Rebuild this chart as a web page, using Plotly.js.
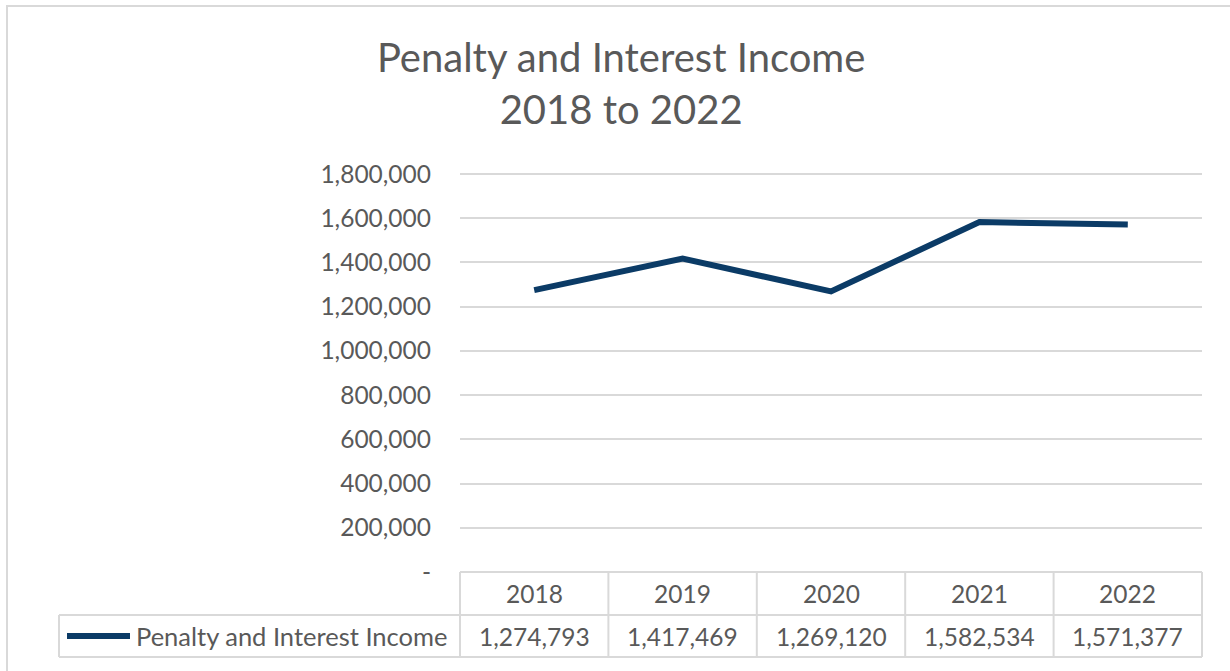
<!DOCTYPE html>
<html>
<head>
<meta charset="utf-8">
<script src="https://cdn.plot.ly/plotly-3.0.1.min.js"></script>
<style>
  html, body { margin: 0; padding: 0; background: #ffffff; }
  #wrap { position: relative; width: 1230px; height: 671px; overflow: hidden; }
  #frame { position: absolute; left: 6px; top: 5px; width: 1240px; height: 700px; border-left: 2.5px solid #d9d9d9; border-top: 2.5px solid #d9d9d9; pointer-events: none; z-index: 5; }
  #chart { position: absolute; left: 0; top: 0; width: 1230px; height: 671px; }
</style>
</head>
<body>
<div id="wrap">
  <div id="chart"></div>
  <div id="frame"></div>
</div>
<script>
const years = ['2018', '2019', '2020', '2021', '2022'];
const income = [1274793, 1417469, 1269120, 1582534, 1571377];
const seriesName = 'Penalty and Interest Income';
const yTickValues = [0, 200000, 400000, 600000, 800000, 1000000, 1200000, 1400000, 1600000, 1800000];
const yTickLabels = ['-', '200,000', '400,000', '600,000', '800,000', '1,000,000', '1,200,000', '1,400,000', '1,600,000', '1,800,000'];

const W = 1230, H = 671;
const L = 460, R = 1202, T = 166, B = 572;
const topGridPix = 174;
const plotW = R - L, plotH = B - T;
const yMax = 1800000 * (B - T) / (B - topGridPix);
const px = p => (p - L) / plotW;   // pixel x -> paper x
const py = p => (B - p) / plotH;   // pixel y -> paper y

const navy = '#0b3b66';
const grey = '#595959';
const border = '#d9d9d9';
const fontFam = 'Lato, "Open Sans", sans-serif';

const rowHeadTop = 572, rowSep = 615, rowBottom = 657, labelLeft = 59;

const shapes = [];
shapes.push({type: 'line', xref: 'paper', yref: 'paper', x0: 0, x1: 1, y0: py(rowHeadTop), y1: py(rowHeadTop), line: {color: border, width: 2}});
shapes.push({type: 'line', xref: 'paper', yref: 'paper', x0: px(labelLeft), x1: 1, y0: py(rowSep), y1: py(rowSep), line: {color: border, width: 2}});
shapes.push({type: 'line', xref: 'paper', yref: 'paper', x0: px(labelLeft), x1: 1, y0: py(rowBottom), y1: py(rowBottom), line: {color: border, width: 2}});
for (let k = 0; k <= years.length; k++) {
  shapes.push({type: 'line', xref: 'paper', yref: 'paper', x0: k / years.length, x1: k / years.length, y0: py(rowHeadTop), y1: py(rowBottom), line: {color: border, width: 2}});
}
shapes.push({type: 'line', xref: 'paper', yref: 'paper', x0: px(labelLeft), x1: px(labelLeft), y0: py(rowSep), y1: py(rowBottom), line: {color: border, width: 2}});
shapes.push({type: 'line', xref: 'paper', yref: 'paper', x0: px(67), x1: px(130), y0: py(636), y1: py(636), line: {color: navy, width: 6}});

const annotations = [];
years.forEach((yr, i) => {
  const cx = (i + 0.5) / years.length;
  annotations.push({xref: 'paper', yref: 'paper', x: cx, y: py(593), text: yr, showarrow: false, xanchor: 'center', yanchor: 'middle', font: {family: fontFam, size: 24.5, color: grey}});
  annotations.push({xref: 'paper', yref: 'paper', x: cx, y: py(636), text: income[i].toLocaleString('en-US'), showarrow: false, xanchor: 'center', yanchor: 'middle', font: {family: fontFam, size: 24.5, color: grey}});
});
annotations.push({xref: 'paper', yref: 'paper', x: px(134), y: py(636), text: seriesName, showarrow: false, xanchor: 'left', yanchor: 'middle', font: {family: fontFam, size: 25.5, color: grey}});

const trace = {
  type: 'scatter',
  mode: 'lines',
  x: years,
  y: income,
  name: seriesName,
  line: {color: navy, width: 6},
  hoverinfo: 'x+y'
};

const layout = {
  width: W,
  height: H,
  margin: {l: L, r: W - R, t: T, b: H - B, pad: 0},
  paper_bgcolor: '#ffffff',
  plot_bgcolor: '#ffffff',
  showlegend: false,
  title: {
    text: 'Penalty and Interest Income<br>2018 to 2022',
    font: {family: fontFam, size: 40, color: grey},
    xref: 'container', x: 0.505, xanchor: 'center',
    yref: 'container', y: 1 - 72 / H, yanchor: 'middle'
  },
  xaxis: {
    type: 'category',
    range: [-0.5, years.length - 0.5],
    showticklabels: false,
    showgrid: false,
    zeroline: false,
    showline: false,
    ticks: ''
  },
  yaxis: {
    range: [0, yMax],
    tickvals: yTickValues,
    ticktext: yTickLabels,
    tickfont: {family: fontFam, size: 24.5, color: grey},
    ticklabelstandoff: 28,
    showgrid: true,
    gridcolor: border,
    gridwidth: 2,
    zeroline: false,
    showline: false,
    ticks: ''
  },
  shapes: shapes,
  annotations: annotations
};

Plotly.newPlot('chart', [trace], layout, {displayModeBar: false, staticPlot: true});
</script>
</body>
</html>
